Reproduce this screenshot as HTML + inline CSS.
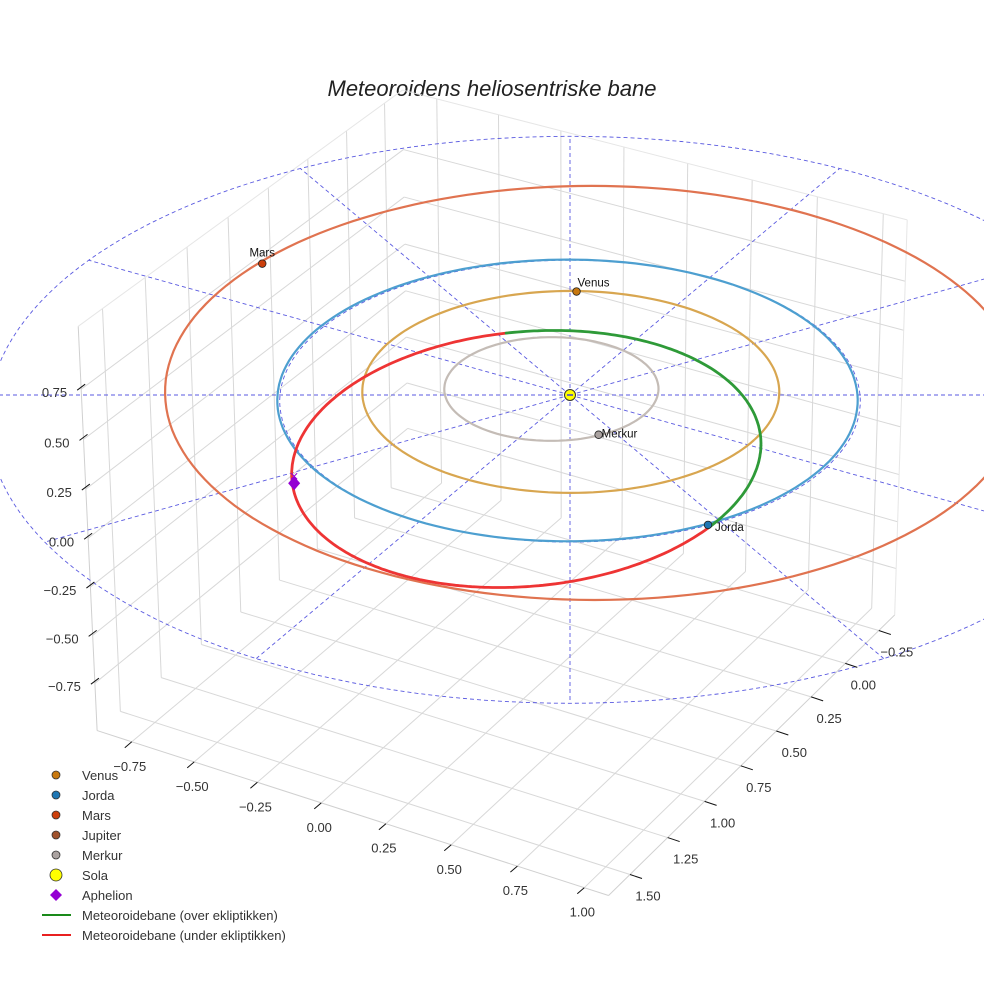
<!DOCTYPE html>
<html><head><meta charset="utf-8">
<style>
html,body{margin:0;padding:0;background:#fff;}
svg{display:block;font-family:"Liberation Sans",sans-serif;}
</style></head>
<body>
<svg id="chart" width="984" height="984" viewBox="0 0 984 984" xmlns="http://www.w3.org/2000/svg">
<rect x="0" y="0" width="984" height="984" fill="#fff"/>
<text x="492" y="96" text-anchor="middle" font-size="22" font-style="italic" fill="#222">Meteoroidens heliosentriske bane</text>
<g id="panes"></g>
<g id="guides"></g>
<g id="orbits"></g>
<g id="meteor"></g>
<g id="markers"></g>
<g id="ticks"></g>
<g id="legend"></g>
</svg>
<script>
// ---- data ----
const xTicks = [-0.75,-0.5,-0.25,0,0.25,0.5,0.75,1.0];
const yTicks = [-0.25,0,0.25,0.5,0.75,1.0,1.25,1.5];
const zTicks = [-0.75,-0.5,-0.25,0,0.25,0.5,0.75];
const xTickLabels = ["−0.75","−0.50","−0.25","0.00","0.25","0.50","0.75","1.00"];
const yTickLabels = ["−0.25","0.00","0.25","0.50","0.75","1.00","1.25","1.50"];
const zTickLabels = ["−0.75","−0.50","−0.25","0.00","0.25","0.50","0.75"];
const xLim = [-0.89, 1.09];
const yLim = [-0.37, 1.64];
const zLim = [-1.0, 1.06];

const orbitNames = ["Merkur","Venus","Jorda","Mars"];
const orbitRadius = [0.37, 0.72, 1.0, 1.48];
const orbitCenterX = [-0.08, -0.02, -0.01, 0.014];
const orbitCenterY = [-0.01, -0.04, 0.0, -0.135];
const orbitColors = ["#c4bcb6","#d8a650","#4d9fd0","#e07350"];

const planetNames = ["Venus","Jorda","Mars","Merkur"];
const planetX = [-0.36, 0.84, -1.445, 0.224];
const planetY = [-0.67, 0.54, -0.29, 0.193];
const planetZ = [0, 0, 0, 0];
const planetColors = ["#c8780f","#1f77b4","#cc3f0c","#aaa2a0"];

const sunPos = [0,0,0];
const aphelionPos = [-0.70, 0.68, -0.285];

const guideRadius = [1.0, 2.0];
const guideAngles = [0,30,60,90,120,150,180,210,240,270,300,330];

// meteoroid orbit (view-frame ellipse parameters + inclination factor)
const meteorCenter = [-0.157, 0.205];
const meteorAxesX = [0.80, -0.03];
const meteorAxesY = [-0.035, 0.43];
const meteorIncl = [0.3];
const meteorNode = [0.455, 0.89];

// ---- projection ----
const TH = 30*Math.PI/180, SE = 0.485, CE = 0.8745, ZS = 0.75, DIST = 20, F = 290, CX = 570, CY = 395;
function P(x,y,z){
  const c=Math.cos(TH), s=Math.sin(TH);
  const u=c*x - s*y, h=s*x + c*y, zz=z*ZS;
  const v=-h*SE + zz*CE, w=h*CE + zz*SE;
  const f=1/(1-w/DIST);
  return [CX+F*f*u, CY-F*f*v];
}
const NS="http://www.w3.org/2000/svg";
function mk(tag, attrs, parent){
  const e=document.createElementNS(NS,tag);
  for(const k in attrs) e.setAttribute(k, attrs[k]);
  parent.appendChild(e); return e;
}
function pathD(pts){ return pts.map((p,i)=>(i?"L":"M")+p[0].toFixed(1)+" "+p[1].toFixed(1)).join(" "); }

// ---- panes & grid ----
const panes=document.getElementById('panes');
function seg(a,b,col,w,name){
  const p1=P(...a), p2=P(...b);
  const l=mk('line',{x1:p1[0],y1:p1[1],x2:p2[0],y2:p2[1],stroke:col,'stroke-width':w},panes);
  
  
}
const GC="#d8d8d8";
xTicks.forEach(x=>seg([x,yLim[0],zLim[0]],[x,yLim[1],zLim[0]],GC,1,'floor-grid-x'));
yTicks.forEach(y=>seg([xLim[0],y,zLim[0]],[xLim[1],y,zLim[0]],GC,1,'floor-grid-y'));
yTicks.forEach(y=>seg([xLim[0],y,zLim[0]],[xLim[0],y,zLim[1]],GC,1,'left-wall-grid-y'));
zTicks.forEach(z=>seg([xLim[0],yLim[0],z],[xLim[0],yLim[1],z],GC,1,'left-wall-grid-z'));
xTicks.forEach(x=>seg([x,yLim[0],zLim[0]],[x,yLim[0],zLim[1]],GC,1,'right-wall-grid-x'));
zTicks.forEach(z=>seg([xLim[0],yLim[0],z],[xLim[1],yLim[0],z],GC,1,'right-wall-grid-z'));
const EC="#e6e6e6";
seg([xLim[0],yLim[1],zLim[0]],[xLim[1],yLim[1],zLim[0]],"#d0d0d0",1,'x-axis-line');
seg([xLim[1],yLim[0],zLim[0]],[xLim[1],yLim[1],zLim[0]],"#d0d0d0",1,'y-axis-line');
seg([xLim[0],yLim[1],zLim[0]],[xLim[0],yLim[1],zLim[1]],"#d0d0d0",1,'z-axis-line');
seg([xLim[0],yLim[0],zLim[1]],[xLim[0],yLim[1],zLim[1]],EC,1,'pane-edge');
seg([xLim[0],yLim[0],zLim[1]],[xLim[1],yLim[0],zLim[1]],EC,1,'pane-edge');
seg([xLim[1],yLim[0],zLim[0]],[xLim[1],yLim[0],zLim[1]],EC,1,'pane-edge');

// ---- guides ----
const guides=document.getElementById('guides');
guideRadius.forEach(r=>{
  const pts=[]; for(let i=0;i<=360;i+=2){const a=i*Math.PI/180; pts.push(P(r*Math.cos(a),r*Math.sin(a),0));}
  const e=mk('path',{d:pathD(pts),fill:'none',stroke:'#5a5ae0','stroke-width':0.9,'stroke-dasharray':'4 3'},guides);
  
  
});
const Rmax=Math.max(...guideRadius);
guideAngles.forEach(d=>{
  const a=d*Math.PI/180; const p1=P(0,0,0), p2=P(Rmax*Math.cos(a),Rmax*Math.sin(a),0);
  const e=mk('line',{x1:p1[0],y1:p1[1],x2:p2[0],y2:p2[1],stroke:'#5a5ae0','stroke-width':0.9,'stroke-dasharray':'4 3'},guides);
  
  
});

// ---- planet orbits ----
const orbitsG=document.getElementById('orbits');
orbitNames.forEach((n,i)=>{
  const pts=[]; for(let k=0;k<=360;k+=2){const a=k*Math.PI/180; pts.push(P(orbitCenterX[i]+orbitRadius[i]*Math.cos(a),orbitCenterY[i]+orbitRadius[i]*Math.sin(a),0));}
  const e=mk('path',{d:pathD(pts),fill:'none',stroke:orbitColors[i],'stroke-width':2.2},orbitsG);
  
  
});

// ---- meteoroid orbit ----
const meteorG=document.getElementById('meteor');
const k=meteorIncl[0], c=Math.cos(TH), s=Math.sin(TH);
const mpts=[];
for(let i=0;i<=360;i+=1){
  const t=i*Math.PI/180;
  const X=meteorCenter[0]+meteorAxesX[0]*Math.cos(t)+meteorAxesX[1]*Math.sin(t);
  const Y=meteorCenter[1]+meteorAxesY[0]*Math.cos(t)+meteorAxesY[1]*Math.sin(t);
  const u=X;
  const h=(Y+CE*ZS*k*meteorNode[1]*X)/(SE+CE*ZS*k*meteorNode[0]);
  const z=k*(meteorNode[1]*u-meteorNode[0]*h);
  const x=c*u+s*h, y=-s*u+c*h;
  mpts.push({p:P(x,y,z),z:z});
}
let cur=[mpts[0]], segs=[];
for(let i=1;i<mpts.length;i++){
  if((mpts[i].z>=0)!==(cur[0].z>=0)){ cur.push(mpts[i]); segs.push(cur); cur=[mpts[i]]; }
  else cur.push(mpts[i]);
}
segs.push(cur);
segs.forEach(sg=>{
  const above=sg[Math.floor(sg.length/2)].z>=0;
  const e=mk('path',{d:pathD(sg.map(q=>q.p)),fill:'none',stroke:above?'#2e9a38':'#ee3434','stroke-width':2.8,'stroke-linecap':'round'},meteorG);
  
  
});

// ---- markers ----
const mg=document.getElementById('markers');
const labelOff={Venus:[1,-5,'start'],Jorda:[7,6,'start'],Mars:[0,-7,'middle'],Merkur:[3,3,'start']};
planetNames.forEach((n,i)=>{
  const p=P(planetX[i],planetY[i],planetZ[i]);
  const e=mk('circle',{cx:p[0],cy:p[1],r:3.8,fill:planetColors[i],stroke:'#222','stroke-width':0.8},mg);
  
  
  const o=labelOff[n];
  const t=mk('text',{x:p[0]+o[0],y:p[1]+o[1],'font-size':11.5,fill:'#111','text-anchor':o[2]},mg);
  t.textContent=n;
  
  
});
const sp=P(...sunPos);
const sun=mk('circle',{cx:sp[0],cy:sp[1],r:5.5,fill:'#ffff00',stroke:'#333','stroke-width':1},mg);


const sd=mk('line',{x1:sp[0]-3,y1:sp[1],x2:sp[0]+3,y2:sp[1],stroke:'#4040d0','stroke-width':1.5},mg);


const ap=P(...aphelionPos);
const apx=mk('path',{d:`M${ap[0]-3} ${ap[1]-10} L${ap[0]+3} ${ap[1]-4} M${ap[0]+3} ${ap[1]-10} L${ap[0]-3} ${ap[1]-4}`,stroke:'#9400d3','stroke-width':1},mg);


const apd=mk('path',{d:`M${ap[0]} ${ap[1]-7} L${ap[0]+6} ${ap[1]} L${ap[0]} ${ap[1]+7} L${ap[0]-6} ${ap[1]} Z`,fill:'#9400d3'},mg);



// ---- ticks ----
const tg=document.getElementById('ticks');
function tick(p,dx1,dy1,dx2,dy2,lx,ly,label,anchor,name){
  const l=mk('line',{x1:p[0]+dx1,y1:p[1]+dy1,x2:p[0]+dx2,y2:p[1]+dy2,stroke:'#111','stroke-width':1},tg);
  
  
  const t=mk('text',{x:p[0]+lx,y:p[1]+ly,'font-size':13,fill:'#333','text-anchor':anchor},tg);
  t.textContent=label;
  
  
}
xTicks.forEach((x,i)=>tick(P(x,yLim[1],zLim[0]),0,0,-7,6,-2,29,xTickLabels[i],'middle','x-axis'));
yTicks.forEach((y,i)=>tick(P(xLim[1],y,zLim[0]),0,0,12,4,18,26,yTickLabels[i],'middle','y-axis'));
zTicks.forEach((z,i)=>tick(P(xLim[0],yLim[1],z),4,-5,-4,1,-14,8,zTickLabels[i],'end','z-axis'));

// ---- legend ----
const lg=document.getElementById('legend');
const legendNames=["Venus","Jorda","Mars","Jupiter","Merkur","Sola","Aphelion","Meteoroidebane (over ekliptikken)","Meteoroidebane (under ekliptikken)"];
const legendColors=["#c8780f","#1f77b4","#cc3f0c","#a0522d","#aaa2a0","#ffff00","#9400d3","#1a8a1a","#e82020"];
const legendKinds=["dot","dot","dot","dot","dot","sun","diamond","line","line"];
legendNames.forEach((n,i)=>{
  const y=775+i*20;
  let m;
  if(legendKinds[i]==="dot") m=mk('circle',{cx:56,cy:y,r:4,fill:legendColors[i],stroke:'#333','stroke-width':0.8},lg);
  else if(legendKinds[i]==="sun") m=mk('circle',{cx:56,cy:y,r:6,fill:legendColors[i],stroke:'#333','stroke-width':0.8},lg);
  else if(legendKinds[i]==="diamond") m=mk('path',{d:`M56 ${y-6} L62 ${y} L56 ${y+6} L50 ${y} Z`,fill:legendColors[i]},lg);
  else m=mk('line',{x1:42,y1:y,x2:71,y2:y,stroke:legendColors[i],'stroke-width':2},lg);
  
  
  const t=mk('text',{x:82,y:y+5,'font-size':13,fill:'#333'},lg);
  t.textContent=n;
  
  
});
</script>
</body></html>
